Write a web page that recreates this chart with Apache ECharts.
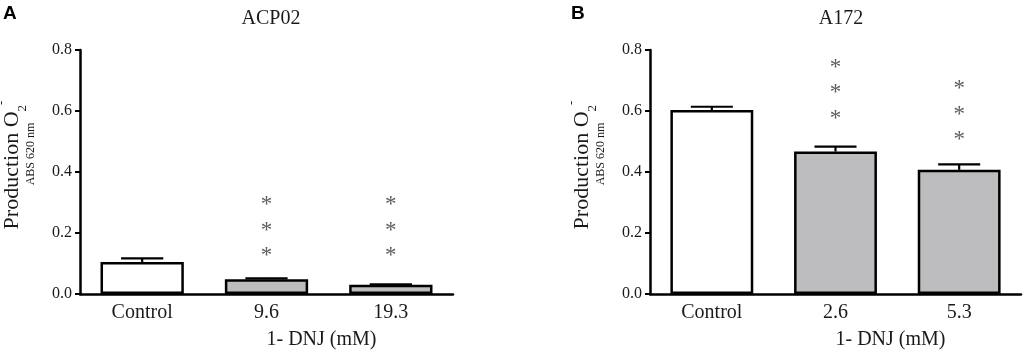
<!DOCTYPE html>
<html>
<head>
<meta charset="utf-8">
<script src="https://cdn.jsdelivr.net/npm/echarts@6/dist/echarts.min.js"></script>
<style>
  html, body { margin: 0; padding: 0; background: #fff; }
  #chart { width: 1024px; height: 354px; }
</style>
</head>
<body>
<div id="chart"></div>
<script>
// panel A: ACP02
const catsA = ['Control', '9.6', '19.3'];
const meanA = [0.105, 0.048, 0.030];
const errA = [0.012, 0.003, 0.002];
const starsA = [[], [0.142, 0.224, 0.308], [0.142, 0.224, 0.308]];

// panel B: A172
const catsB = ['Control', '2.6', '5.3'];
const meanB = [0.603, 0.467, 0.407];
const errB = [0.011, 0.016, 0.018];
const starsB = [[], [0.589, 0.674, 0.758], [0.521, 0.603, 0.689]];

const yTicks = [0, 0.2, 0.4, 0.6, 0.8];
const barColors = ['#ffffff', '#bdbdbf', '#bdbdbf'];

const serif = 'Liberation Serif';
const ink = '#1a1a1a';

const chart = echarts.init(document.getElementById('chart'));

function xAxis(cats, gi) {
  return {
    type: 'category',
    gridIndex: gi,
    data: cats,
    axisLine: { lineStyle: { color: '#000', width: 2.5 } },
    axisTick: { alignWithLabel: true, length: 6, lineStyle: { color: '#000', width: 2 } },
    axisLabel: { color: ink, fontFamily: serif, fontSize: 20, margin: 9 },
    name: '1- DNJ (mM)',
    nameLocation: 'middle',
    nameGap: 36,
    nameTextStyle: { color: ink, fontFamily: serif, fontSize: 20, align: 'left' }
  };
}

function yAxis(gi) {
  return {
    type: 'value',
    gridIndex: gi,
    min: yTicks[0],
    max: yTicks[yTicks.length - 1],
    interval: 0.2,
    splitLine: { show: false },
    axisLine: { show: true, lineStyle: { color: '#000', width: 2.5 } },
    axisTick: { show: true, length: 5, lineStyle: { color: '#000', width: 2 } },
    axisLabel: { color: ink, fontFamily: serif, fontSize: 16, margin: 8, formatter: v => v.toFixed(1) },
    name: 'Production O{sub|2}{sup|-}\n{small|ABS 620 nm}',
    nameLocation: 'middle',
    nameGap: 41,
    nameRotate: 90,
    nameTextStyle: {
      color: ink, fontFamily: serif, fontSize: 22, lineHeight: 22,
      padding: [0, 0, 0, 14],
      rich: {
        sub: { fontFamily: serif, fontSize: 13, color: ink, verticalAlign: 'bottom', lineHeight: 22, padding: [0, 0, -6, 0] },
        sup: { fontFamily: serif, fontSize: 13, color: ink, verticalAlign: 'top', lineHeight: 22, padding: [-6, 0, 0, 0] },
        small: { fontFamily: serif, fontSize: 12, color: ink, lineHeight: 16, padding: [0, 0, 0, 22] }
      }
    }
  };
}

function barSeries(mean, gi) {
  return {
    type: 'bar',
    xAxisIndex: gi,
    yAxisIndex: gi,
    barWidth: '67%',
    data: mean.map((v, i) => ({
      value: v,
      itemStyle: { color: barColors[i], borderColor: '#000', borderWidth: 2.5 }
    })),
    silent: true
  };
}

function errSeries(mean, err, gi) {
  return {
    type: 'custom',
    xAxisIndex: gi,
    yAxisIndex: gi,
    z: 3,
    data: mean.map((v, i) => [i, v, v + err[i]]),
    renderItem: (params, api) => {
      const base = api.coord([api.value(0), api.value(1)]);
      const top = api.coord([api.value(0), api.value(2)]);
      const half = api.size([1, 0])[0] * 0.17;
      const style = { stroke: '#000', lineWidth: 2.2 };
      return {
        type: 'group',
        children: [
          { type: 'line', shape: { x1: base[0], y1: base[1], x2: top[0], y2: top[1] }, style },
          { type: 'line', shape: { x1: top[0] - half, y1: top[1], x2: top[0] + half, y2: top[1] }, style }
        ]
      };
    }
  };
}

function starSeries(stars, gi) {
  const pts = [];
  stars.forEach((list, i) => list.forEach(y => pts.push([i, y])));
  return {
    type: 'scatter',
    xAxisIndex: gi,
    yAxisIndex: gi,
    symbolSize: 0,
    data: pts,
    label: {
      show: true,
      position: 'inside',
      formatter: '*',
      color: '#333333',
      fontFamily: serif,
      fontSize: 23,
      offset: [0, 5]
    },
    silent: true
  };
}

chart.setOption({
  animation: false,
  backgroundColor: '#fff',
  title: [
    { text: 'ACP02', left: 266, top: 4, textAlign: 'center',
      textStyle: { fontFamily: serif, fontSize: 20, fontWeight: 'normal', color: ink } },
    { text: 'A172', left: 836, top: 4, textAlign: 'center',
      textStyle: { fontFamily: serif, fontSize: 20, fontWeight: 'normal', color: ink } }
  ],
  graphic: [
    { type: 'text', left: 3, top: 4, style: { text: 'A', font: 'bold 19px "Liberation Sans"', fill: '#000' } },
    { type: 'text', left: 571, top: 4, style: { text: 'B', font: 'bold 19px "Liberation Sans"', fill: '#000' } }
  ],
  grid: [
    { left: 80, right: 571, top: 50, bottom: 60, outerBoundsMode: 'none' },
    { left: 650, right: 3, top: 50, bottom: 60, outerBoundsMode: 'none' }
  ],
  xAxis: [xAxis(catsA, 0), xAxis(catsB, 1)],
  yAxis: [yAxis(0), yAxis(1)],
  series: [
    barSeries(meanA, 0), errSeries(meanA, errA, 0), starSeries(starsA, 0),
    barSeries(meanB, 1), errSeries(meanB, errB, 1), starSeries(starsB, 1)
  ]
});
</script>
</body>
</html>
